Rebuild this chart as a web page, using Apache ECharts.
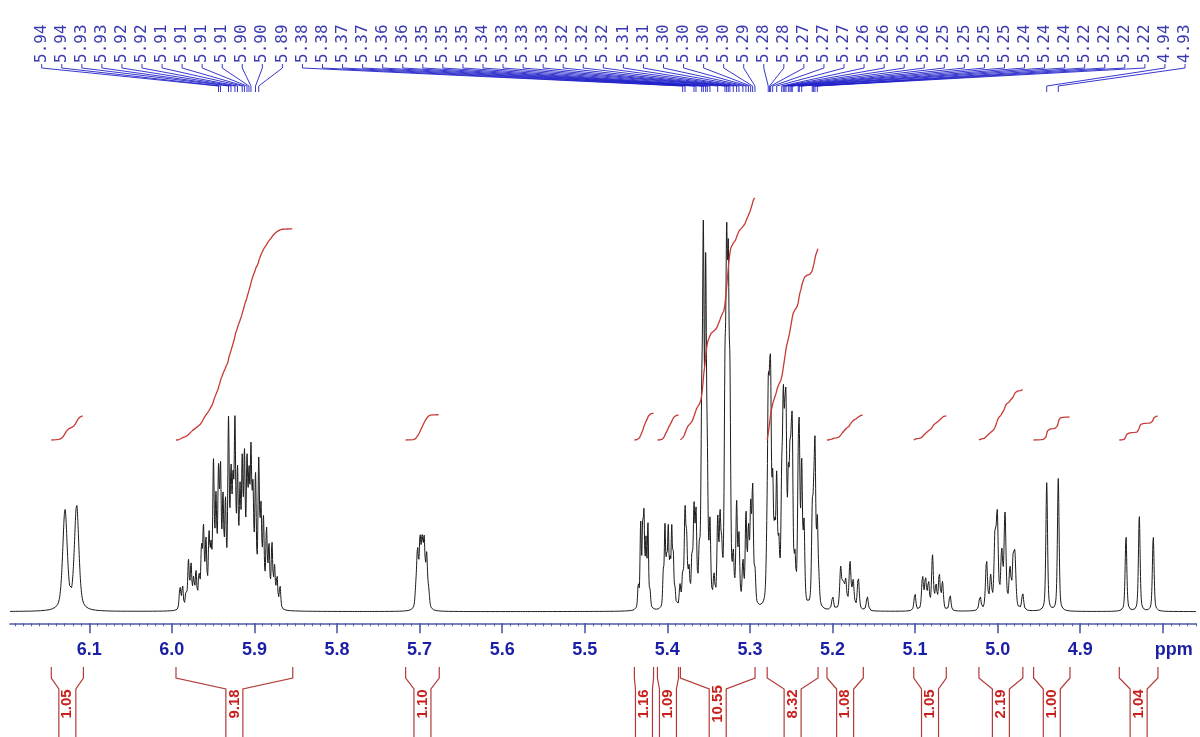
<!DOCTYPE html>
<html>
<head>
<meta charset="utf-8">
<title>1H NMR 4.8-6.2 ppm</title>
<script src="https://cdn.jsdelivr.net/npm/echarts@6/dist/echarts.min.js"></script>
<style>
  html, body { margin: 0; padding: 0; background: #ffffff; }
  #chart { width: 1200px; height: 737px; }
</style>
</head>
<body>
<div id="chart"></div>
<script>
// ---- Spectrum: resolved lines of each multiplet, [ppm, intensity] ----
const peaks_6_12 = [[6.1294, 25.6], [6.1153, 26.8]];
const peaks_5_93 = [
  [5.9902, 6], [5.9871, 6], [5.9829, 4], [5.9799, 12], [5.9768, 11], [5.9738, 7],
  [5.9708, 9], [5.9672, 8], [5.9641, 14], [5.9617, 19], [5.9587, 16], [5.9550, 17],
  [5.9526, 13], [5.9496, 35], [5.9466, 25], [5.9435, 31], [5.9411, 32], [5.9381, 25],
  [5.9351, 24], [5.9314, 45], [5.9284, 30], [5.9260, 26], [5.9236, 43], [5.9205, 31],
  [5.9175, 26], [5.9148, 33], [5.9121, 35], [5.9090, 33], [5.9066, 28], [5.9042, 35],
  [5.9018, 26], [5.8987, 31], [5.8948, 35], [5.8921, 23], [5.8891, 21], [5.8854, 19],
  [5.8824, 15], [5.8788, 16], [5.8757, 10], [5.8727, 8], [5.8691, 6]
];
const peaks_5_70 = [[5.7045, 4], [5.7025, 14], [5.6995, 16], [5.6970, 15], [5.6945, 16], [5.6915, 13], [5.6890, 4]];
const peaks_5_43 = [[5.4352, 6], [5.4323, 21], [5.4299, 18], [5.4283, 21], [5.4259, 16], [5.4235, 21], [5.4210, 4]];
const peaks_5_40 = [[5.4049, 8], [5.4029, 20], [5.4008, 11], [5.3989, 19], [5.3968, 10], [5.3947, 19], [5.3928, 12], [5.3907, 4]];
const peaks_5_34 = [
  [5.3847, 5.5], [5.3814, 8], [5.3786, 23], [5.3766, 15], [5.3738, 9], [5.3702, 11],
  [5.3677, 23], [5.3653, 22], [5.3613, 11], [5.3584, 41], [5.3564, 86], [5.3536, 79],
  [5.3516, 28], [5.3484, 19], [5.3435, 7], [5.3390, 21], [5.3362, 20], [5.3342, 11],
  [5.3302, 50], [5.3282, 77], [5.3262, 72], [5.3242, 48], [5.3202, 11], [5.3161, 25],
  [5.3133, 17], [5.3085, 11], [5.3048, 23], [5.3018, 18], [5.2991, 23], [5.2967, 29],
  [5.2939, 8]
];
const peaks_5_25 = [
  [5.2795, 10], [5.2778, 45], [5.2762, 31], [5.2749, 44], [5.2724, 27], [5.2700, 15],
  [5.2676, 30], [5.2650, 13], [5.2615, 26], [5.2596, 43], [5.2578, 29], [5.2563, 40],
  [5.2535, 26], [5.2515, 28], [5.2500, 21], [5.2487, 36], [5.2455, 10], [5.2415, 26],
  [5.2402, 34], [5.2373, 34], [5.2345, 20], [5.2245, 21], [5.2228, 18], [5.2212, 37],
  [5.2184, 20], [5.2165, 5]
];
const peaks_5_18 = [[5.1998, 3.4], [5.1901, 10.5], [5.1870, 6], [5.1840, 7], [5.1788, 12], [5.1750, 7], [5.1688, 8.5], [5.1579, 3.7]];
const peaks_5_08 = [[5.1002, 4.5], [5.0910, 8.7], [5.0874, 8], [5.0838, 7], [5.0789, 13.8], [5.0747, 6], [5.0707, 9], [5.0668, 7], [5.0577, 4.3]];
const peaks_4_99 = [[5.0214, 3.8], [5.0135, 12.5], [5.0085, 8], [5.0032, 17.5], [5.0005, 23], [4.9951, 14], [4.9911, 24], [4.9851, 10], [4.9811, 12], [4.9790, 11.5], [4.9697, 4.3]];
const peaks_4_93 = [[4.9406, 32.9], [4.9266, 34.0]];
const peaks_4_83 = [[4.8446, 19.4], [4.8285, 24.4], [4.8116, 19.4]];

// line width (FWHM, ppm) of each multiplet
const multiplets = [
  { peaks: peaks_6_12, fwhm: 0.0065 },
  { peaks: peaks_5_93, fwhm: 0.0022 },
  { peaks: peaks_5_70, fwhm: 0.0025 },
  { peaks: peaks_5_43, fwhm: 0.0018 },
  { peaks: peaks_5_40, fwhm: 0.0018 },
  { peaks: peaks_5_34, fwhm: 0.0022 },
  { peaks: peaks_5_25, fwhm: 0.0022 },
  { peaks: peaks_5_18, fwhm: 0.0028 },
  { peaks: peaks_5_08, fwhm: 0.0026 },
  { peaks: peaks_4_99, fwhm: 0.0028 },
  { peaks: peaks_4_93, fwhm: 0.0024 },
  { peaks: peaks_4_83, fwhm: 0.0024 }
];

// ---- Peak picking (ppm of labelled lines) ----
const pickedPeaks = [
  5.9435, 5.9411, 5.9314, 5.9284, 5.9236, 5.9205, 5.9148, 5.9121, 5.9090, 5.9066, 5.9042, 5.8987, 5.8948,
  5.3814, 5.3786, 5.3677, 5.3653, 5.3584, 5.3564, 5.3536, 5.3516, 5.3484, 5.3390, 5.3302, 5.3282,
  5.3262, 5.3242, 5.3202, 5.3161, 5.3133, 5.3085, 5.3048, 5.3018, 5.2991, 5.2967, 5.2939,
  5.2778, 5.2762, 5.2749, 5.2724, 5.2676, 5.2615, 5.2596, 5.2578, 5.2563, 5.2535, 5.2515,
  5.2500, 5.2487, 5.2415, 5.2402, 5.2373, 5.2245, 5.2228, 5.2212, 5.2184, 4.9406, 4.9266
];

// ---- Integrals: [from ppm, to ppm] and normalised values ----
const integralRanges = [
  [6.1460, 6.1071], [5.9950, 5.8536], [5.7169, 5.6762], [5.4399, 5.4167],
  [5.4120, 5.3865], [5.3842, 5.2938], [5.2791, 5.2175], [5.2067, 5.1627],
  [5.1016, 5.0622], [5.0227, 4.9695], [4.9565, 4.9124], [4.8527, 4.8059]
];
const integralValues = [1.05, 9.18, 1.10, 1.16, 1.09, 10.55, 8.32, 1.08, 1.05, 2.19, 1.00, 1.04];

// ---- Axis ----
const axisTicks = [6.1, 6.0, 5.9, 5.8, 5.7, 5.6, 5.5, 5.4, 5.3, 5.2, 5.1, 5.0, 4.9, 4.8];
const axisTickLabels = ['6.1', '6.0', '5.9', '5.8', '5.7', '5.6', '5.5', '5.4', '5.3', '5.2', '5.1', '5.0', '4.9', 'ppm'];
const PPM_MIN = 4.76, PPM_MAX = 6.196;

// ---- Layout ----
const GRID_TOP = 160, AXIS_Y = 623.3, CHART_H = 737;
const GRID_H = AXIS_Y - GRID_TOP;
const SPEC_PX_PER_UNIT = 3.896, SPEC_MIN = -3;
const INT_BASE_Y = 440, INT_PX_PER_UNIT = 23;
const LABEL_X0 = 41.7, LABEL_X1 = 1185;
const LABEL_DX = (LABEL_X1 - LABEL_X0) / (pickedPeaks.length - 1);
const BR_TOP = 667, BR_KNEE1 = 678, BR_KNEE2 = 689, BR_GAP = 8.5, BR_TEXT_Y = 704;

// ---- Line shape (pseudo-Voigt) and spectrum trace ----
const ETA = 0.5;
function lineShape(d, fwhm) {
  const r = (2 * d / fwhm) * (2 * d / fwhm);
  return ETA / (1 + r) + (1 - ETA) * Math.exp(-Math.LN2 * r);
}
function intensity(ppm) {
  let s = 0;
  for (const m of multiplets) {
    for (const [p, h] of m.peaks) {
      const d = ppm - p;
      if (d > -0.25 && d < 0.25) s += h * lineShape(d, m.fwhm);
    }
  }
  return s;
}
const STEP = 0.0002;
const spectrum = [];
const nSteps = Math.round((PPM_MAX - PPM_MIN) / STEP);
for (let k = 0; k <= nSteps; k++) {
  const x = PPM_MIN + k * STEP;
  spectrum.push([x, intensity(x)]);
}

// integral traces: running area from the high-ppm end of each range
const integralTraces = integralRanges.map(([hi, lo], i) => {
  let acc = 0;
  const n = Math.round((hi - lo) / STEP);
  const raw = [];
  for (let k = 0; k <= n; k++) {
    const x = hi - k * STEP;
    acc += intensity(x);
    raw.push([x, acc]);
  }
  const total = acc || 1;
  return raw.map(([x, a]) => [x, integralValues[i] * a / total]);
});

const RED_LINE = '#c63a36';
const RED_BRACKET = '#b23a36';
const RED_TEXT = '#c8201c';
const BLUE_TEXT = '#1b1fa4';
const BLUE_PICK = '#3a3ab0';
const AXIS_BLUE = '#4e5aa6';

const series = [];
series.push({
  name: 'spectrum', type: 'line', data: spectrum, xAxisIndex: 0, yAxisIndex: 0,
  showSymbol: false, symbol: 'none', silent: true, animation: false,
  lineStyle: { color: '#1c1c1c', width: 1 }, z: 3
});
integralTraces.forEach((tr) => {
  series.push({
    type: 'line', data: tr, xAxisIndex: 0, yAxisIndex: 1, showSymbol: false, symbol: 'none',
    silent: true, animation: false, clip: false,
    lineStyle: { color: RED_LINE, width: 1.3 }, z: 4
  });
});
series.push({
  name: 'peak labels', type: 'custom', xAxisIndex: 0, yAxisIndex: 0, clip: false, silent: true, animation: false,
  data: pickedPeaks.map((p, i) => [p, i]),
  renderItem(params, api) {
    const ppm = api.value(0), i = api.value(1);
    const px = api.coord([ppm, 0])[0];
    const sx = LABEL_X0 + i * LABEL_DX;
    return {
      type: 'group',
      children: [
        { type: 'polyline', shape: { points: [[sx, 64], [sx, 68], [px, 86], [px, 92]] },
          style: { stroke: '#2020c8', lineWidth: 0.9, fill: null } },
        { type: 'text', x: sx, y: 63, rotation: Math.PI / 2,
          style: { text: ppm.toFixed(2), fill: BLUE_PICK, font: '16px "DejaVu Sans Mono"', align: 'left', verticalAlign: 'middle' } }
      ]
    };
  }
});
series.push({
  name: 'integral brackets', type: 'custom', xAxisIndex: 0, yAxisIndex: 0, clip: false, silent: true, animation: false,
  data: integralRanges.map((r, i) => [r[0], r[1], integralValues[i]]),
  renderItem(params, api) {
    const xa = api.coord([api.value(0), 0])[0];
    const xb = api.coord([api.value(1), 0])[0];
    const xl = Math.min(xa, xb), xr = Math.max(xa, xb), cx = (xl + xr) / 2;
    const g = Math.min(BR_GAP, (xr - xl) / 2);
    const arm = (x0, x1) => [[x0, BR_TOP], [x0, BR_KNEE1], [x1, BR_KNEE2], [x1, CHART_H + 5]];
    const st = { stroke: RED_BRACKET, lineWidth: 1.2, fill: null };
    return {
      type: 'group',
      children: [
        { type: 'polyline', shape: { points: arm(xl, cx - g) }, style: st },
        { type: 'polyline', shape: { points: arm(xr, cx + g) }, style: st },
        { type: 'text', x: cx, y: BR_TEXT_Y, rotation: Math.PI / 2,
          style: { text: api.value(2).toFixed(2), fill: RED_TEXT, font: 'bold 15px "Liberation Sans", Arial, sans-serif',
                   align: 'center', verticalAlign: 'middle' } }
      ]
    };
  }
});

const minorTicks = [];
for (let k = Math.ceil(PPM_MIN * 100); k <= Math.floor(PPM_MAX * 100); k++) minorTicks.push(k / 100);

const chart = echarts.init(document.getElementById('chart'), null, { renderer: 'canvas' });
chart.setOption({
  animation: false,
  backgroundColor: '#ffffff',
  grid: { left: 10, right: 1200 - 10 - (PPM_MAX - PPM_MIN) * 825.8, top: GRID_TOP, bottom: CHART_H - AXIS_Y, containLabel: false },
  xAxis: [
    {
      type: 'value', inverse: true, min: PPM_MIN, max: PPM_MAX, position: 'bottom',
      axisLine: { show: true, onZero: false, lineStyle: { color: AXIS_BLUE, width: 1.6 } },
      axisTick: { show: true, customValues: axisTicks, length: 10, lineStyle: { color: AXIS_BLUE, width: 1.6 } },
      axisLabel: {
        show: true, customValues: axisTicks, margin: 18,
        formatter: (v) => {
          const idx = axisTicks.findIndex(t => Math.abs(t - v) < 1e-6);
          const txt = idx >= 0 ? axisTickLabels[idx] : '';
          return txt === 'ppm' ? '{u|ppm}' : txt;
        },
        color: BLUE_TEXT, fontSize: 18, fontWeight: 'bold', fontFamily: '"Liberation Sans", Arial, sans-serif',
        rich: { u: { color: BLUE_TEXT, fontSize: 18, fontWeight: 'bold', fontFamily: '"Liberation Sans", Arial, sans-serif', padding: [0, 0, 0, 22] } }
      },
      splitLine: { show: false }
    },
    {
      type: 'value', inverse: true, min: PPM_MIN, max: PPM_MAX, position: 'bottom', offset: 0,
      axisLine: { show: false, onZero: false },
      axisTick: { show: true, customValues: minorTicks, length: 3, lineStyle: { color: AXIS_BLUE, width: 1 } },
      axisLabel: { show: false }, splitLine: { show: false }
    }
  ],
  yAxis: [
    { type: 'value', show: false, min: SPEC_MIN, max: SPEC_MIN + GRID_H / SPEC_PX_PER_UNIT, splitLine: { show: false } },
    { type: 'value', show: false, min: -(AXIS_Y - INT_BASE_Y) / INT_PX_PER_UNIT,
      max: -(AXIS_Y - INT_BASE_Y) / INT_PX_PER_UNIT + GRID_H / INT_PX_PER_UNIT, splitLine: { show: false } }
  ],
  series: series
});
</script>
</body>
</html>
